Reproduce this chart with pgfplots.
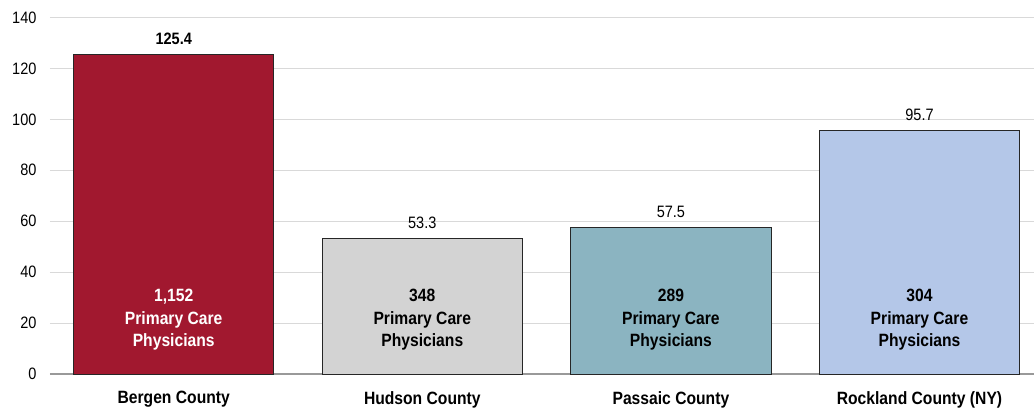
\documentclass[border=0pt]{standalone}
\usepackage{pgfplots}
\pgfplotsset{compat=1.18}
\usepackage{fontspec}
\setmainfont[FakeStretch=0.88]{Liberation Sans}
\definecolor{bergen}{HTML}{A1182F}
\definecolor{hudson}{HTML}{D3D3D3}
\definecolor{passaic}{HTML}{8BB4C1}
\definecolor{rockland}{HTML}{B4C7E8}
\definecolor{gridc}{HTML}{D9D9D9}
\definecolor{barline}{HTML}{262626}
\begin{document}
\begin{tikzpicture}
\begin{axis}[
  scale only axis,
  width=984pt, height=356.5pt,
  xmin=-0.4976, xmax=3.4606,
  ymin=0, ymax=140,
  ytick={0,20,...,140},
  xtick={0,1,2,3},
  xticklabels={Bergen County, Hudson County, Passaic County, Rockland County (NY)},
  x tick label style={font=\fontsize{17.8}{20}\selectfont\bfseries, yshift=-14pt},
  y tick label style={font=\fontsize{16.5}{19}\selectfont, xshift=-10pt},
  /pgf/number format/assume math mode=true,
  ymajorgrids, major grid style={gridc, line width=1pt},
  axis x line*=bottom, axis y line*=left,
  y axis line style={draw=none},
  x axis line style={color=gray!80, line width=1.5pt},
  major tick length=0pt,
  ybar, bar width=0.806, bar shift=0pt,
  clip=false,
  nodes near coords,
  every node near coord/.append style={font=\fontsize{16.5}{19}\selectfont, anchor=south, yshift=6pt},
  point meta=explicit symbolic,
]
\addplot[fill=bergen, draw=barline, line width=0.8pt, nodes near coords style={font=\fontsize{16.5}{19}\selectfont\bfseries}] coordinates {(0,125.4) [125.4]};
\addplot[fill=hudson, draw=barline, line width=0.8pt] coordinates {(1,53.3) [53.3]};
\addplot[fill=passaic, draw=barline, line width=0.8pt] coordinates {(2,57.5) [57.5]};
\addplot[fill=rockland, draw=barline, line width=0.8pt] coordinates {(3,95.7) [95.7]};
\node[align=center, text=white, font=\fontsize{17.8}{22.5}\selectfont\bfseries] at (axis cs:0,21.2) {1,152\\Primary Care\\Physicians};
\node[align=center, text=black, font=\fontsize{17.8}{22.5}\selectfont\bfseries] at (axis cs:1,21.2) {348\\Primary Care\\Physicians};
\node[align=center, text=black, font=\fontsize{17.8}{22.5}\selectfont\bfseries] at (axis cs:2,21.2) {289\\Primary Care\\Physicians};
\node[align=center, text=black, font=\fontsize{17.8}{22.5}\selectfont\bfseries] at (axis cs:3,21.2) {304\\Primary Care\\Physicians};
\end{axis}
\pgfresetboundingbox
\path[use as bounding box] ([xshift=-50pt,yshift=-39pt]current axis.south west) rectangle ([yshift=17.5pt]current axis.north east);
\end{tikzpicture}
\end{document}
